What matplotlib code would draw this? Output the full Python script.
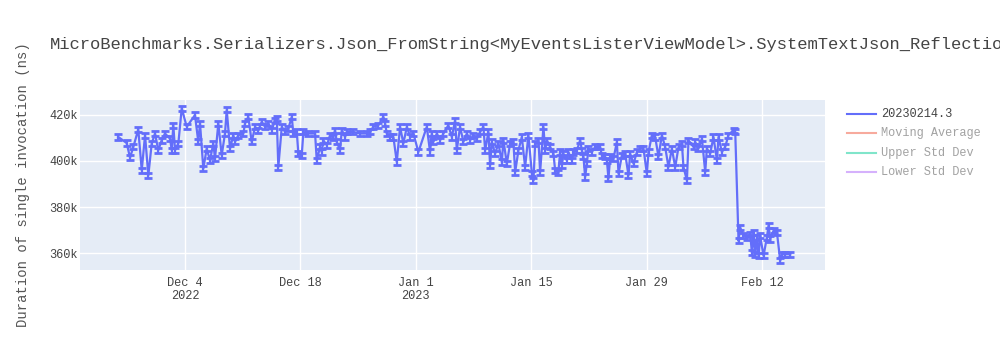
import numpy as np
import matplotlib
matplotlib.use("Agg")
import matplotlib.pyplot as plt
import matplotlib.dates as mdates
from matplotlib.lines import Line2D
from matplotlib.ticker import FuncFormatter

plt.rcParams['font.family'] = ['Liberation Mono', 'DejaVu Sans Mono']

title = "MicroBenchmarks.Serializers.Json_FromString<MyEventsListerViewModel>.SystemTextJson_Reflection_"
y_title = "Duration of single invocation (ns)"

# run times in days relative to 2022-12-04, durations in thousands of ns
day_offsets = [
    -8.09, -7.08, -6.67, -6.27, -5.67, -5.25, -4.85, -4.45, -4.04, -3.64,
    -3.24, -2.83, -2.43, -1.82, -1.61, -1.42, -1.21, -0.81, -0.40, 0.21,
    1.21, 1.61, 1.82, 2.22, 2.63, 3.03, 3.43, 3.64, 4.04, 4.45,
    4.85, 5.06, 5.46, 5.86, 6.07, 6.47, 7.08, 7.28, 7.68, 8.09,
    8.50, 8.90, 9.31, 9.71, 10.11, 10.52, 10.92, 11.13, 11.32, 11.74,
    12.14, 12.54, 12.95, 13.14, 13.56, 13.75, 14.16, 14.36, 14.96, 15.78,
    15.98, 16.38, 16.59, 16.78, 17.20, 17.60, 18.00, 18.20, 18.41, 18.81,
    19.02, 19.42, 19.62, 20.42, 21.24, 22.05, 22.45, 22.85, 23.46, 24.07,
    24.27, 24.48, 24.88, 25.28, 25.69, 26.09, 26.49, 26.91, 27.31, 27.71,
    28.31, 29.33, 29.73, 29.94, 30.13, 30.55, 30.95, 31.35, 31.95, 32.37,
    32.77, 32.97, 33.37, 33.77, 34.19, 34.59, 34.99, 35.40, 35.80, 36.20,
    36.41, 36.81, 37.01, 37.22, 37.62, 38.02, 38.43, 38.63, 39.04, 39.44,
    39.84, 40.05, 40.45, 40.86, 41.26, 41.66, 42.08, 42.27, 42.48, 42.88,
    43.08, 43.48, 43.69, 43.90, 44.30, 44.70, 44.90, 45.30, 45.50, 45.72,
    45.91, 46.32, 46.52, 46.93, 47.12, 47.54, 47.94, 48.14, 48.34, 48.54,
    48.75, 48.94, 49.36, 49.76, 50.36, 50.57, 50.97, 51.18, 51.37, 51.58,
    51.98, 52.39, 52.59, 53.00, 53.40, 53.80, 54.00, 54.41, 54.82, 55.22,
    55.62, 56.03, 56.23, 56.64, 57.04, 57.44, 57.85, 58.25, 58.65, 59.06,
    59.47, 59.87, 60.28, 60.47, 60.89, 61.08, 61.69, 61.89, 62.29, 62.71,
    63.11, 63.31, 63.71, 64.11, 64.53, 64.72, 65.13, 65.53, 65.93, 66.54,
    66.75, 67.15, 67.35, 67.75, 68.17, 68.57, 68.77, 68.97, 69.17, 69.38,
    69.58, 69.78, 70.18, 70.59, 70.79, 71.00, 71.40, 71.81, 72.21, 72.42,
    72.82, 73.42,
]
durations_k = [
    410.3, 407.7, 401.4, 406.0, 413.6, 395.9, 411.1, 393.7, 407.5, 411.8,
    404.6, 408.9, 411.8, 409.6, 404.6, 415.4, 404.6, 407.5, 422.7, 414.7,
    419.8, 408.2, 416.2, 396.6, 405.3, 400.2, 407.5, 401.0, 416.2, 402.4,
    411.8, 422.0, 405.3, 411.1, 408.2, 411.1, 411.8, 416.2, 419.0, 408.2,
    414.7, 413.3, 416.9, 414.7, 416.2, 413.3, 417.6, 418.3, 397.3, 414.7,
    412.5, 414.0, 419.0, 411.8, 412.5, 403.1, 402.4, 412.5, 411.8, 411.8,
    400.2, 406.0, 403.8, 408.9, 406.7, 411.1, 410.3, 413.3, 408.2, 404.6,
    413.3, 410.3, 412.5, 412.5, 411.8, 411.8, 412.5, 414.7, 415.4, 419.0,
    416.2, 411.8, 410.3, 410.3, 399.5, 414.7, 407.5, 414.7, 410.3, 411.8,
    403.8, 414.7, 403.8, 411.8, 408.2, 411.8, 408.9, 411.8, 415.4, 410.3,
    417.6, 404.6, 414.7, 408.2, 411.8, 408.9, 411.1, 409.6, 412.5, 414.7,
    404.6, 412.5, 398.0, 408.2, 403.1, 407.5, 399.5, 408.9, 398.8, 407.5,
    408.2, 395.1, 404.6, 410.3, 397.3, 411.1, 394.4, 391.5, 407.5, 408.9,
    395.1, 414.7, 404.6, 408.9, 406.0, 403.1, 395.9, 395.1, 403.8, 398.0,
    403.1, 400.2, 403.8, 400.2, 403.8, 404.6, 408.9, 404.6, 401.7, 393.0,
    398.8, 405.3, 403.8, 406.0, 406.0, 402.4, 401.7, 400.2, 392.3, 401.7,
    401.0, 408.2, 394.4, 402.4, 403.1, 393.7, 403.1, 398.8, 403.8, 405.3,
    405.3, 394.4, 403.8, 411.1, 410.3, 401.7, 411.1, 406.0, 397.3, 405.3,
    397.3, 406.0, 407.5, 397.3, 391.5, 408.9, 406.0, 408.2, 405.3, 409.6,
    395.1, 405.3, 403.1, 410.3, 400.2, 410.3, 403.8, 406.0, 411.1, 413.3,
    412.5, 365.4, 371.2, 367.6, 366.9, 368.3, 360.3, 369.0, 359.6, 366.9,
    358.9, 367.6, 358.9, 366.9, 372.0, 366.2, 369.8, 369.0, 356.8, 359.6,
    359.6, 359.6,
]
stdev_k = 1.1

legend_labels = ["20230214.3", "Moving Average", "Upper Std Dev", "Lower Std Dev"]
legend_colors = ["#636efa", "#f7aa9d", "#80e5ca", "#d5b1fc"]
legend_text_colors = ["#444444", "#a2a2a2", "#a2a2a2", "#a2a2a2"]

y_ticks_k = [360, 380, 400, 420]
tick_dates = ["2022-12-04", "2022-12-18", "2023-01-01", "2023-01-15", "2023-01-29", "2023-02-12"]
tick_labels = ["Dec 4\n2022", "Dec 18", "Jan 1\n2023", "Jan 15", "Jan 29", "Feb 12"]

base = mdates.date2num(np.datetime64("2022-12-04"))
x = base + np.array(day_offsets)
y = np.array(durations_k) * 1000

fig = plt.figure(figsize=(10, 3.5), dpi=100)
ax = fig.add_axes([0.08, 1 - 270 / 350, 0.745, 170 / 350])
ax.set_facecolor("#e5ecf6")
for s in ax.spines.values():
    s.set_visible(False)

ax.errorbar(x, y, yerr=stdev_k * 1000, color="#636efa", lw=1.6,
            elinewidth=1.6, capsize=2.8, capthick=2.0, zorder=3)

ax.set_xlim(base - 12.74, base + 77.64)
ax.set_ylim(352.8e3, 426.3e3)

ax.set_yticks([v * 1000 for v in y_ticks_k])
ax.yaxis.set_major_formatter(FuncFormatter(lambda v, p: f"{v / 1000:.0f}k"))
ax.set_xticks([mdates.date2num(np.datetime64(d)) for d in tick_dates])
ax.set_xticklabels(tick_labels)
for lbl in ax.get_xticklabels():
    lbl.set_linespacing(1.1)

ax.grid(True, color="white", lw=1.0)
ax.set_axisbelow(True)
ax.tick_params(length=0, labelsize=8.6, labelcolor="#444444")
ax.tick_params(axis="y", pad=1.5)
ax.tick_params(axis="x", pad=5)

fig.text(0.05, 1 - 45 / 350, title, fontsize=12.3, color="#444444",
         ha="left", va="center")
fig.text(0.023, 1 - 185 / 350, y_title, fontsize=10, color="#555555",
         rotation=90, ha="center", va="center")

# legend drawn by hand on the right side
for i, (lab, col, tcol) in enumerate(zip(legend_labels, legend_colors, legend_text_colors)):
    yf = 1 - (114 + i * 19.3) / 350
    fig.add_artist(Line2D([0.847, 0.876], [yf, yf], color=col, lw=1.5,
                          transform=fig.transFigure))
    fig.text(0.881, yf, lab, fontsize=8.6, color=tcol, ha="left", va="center")

fig.savefig("out.png", dpi=100)
